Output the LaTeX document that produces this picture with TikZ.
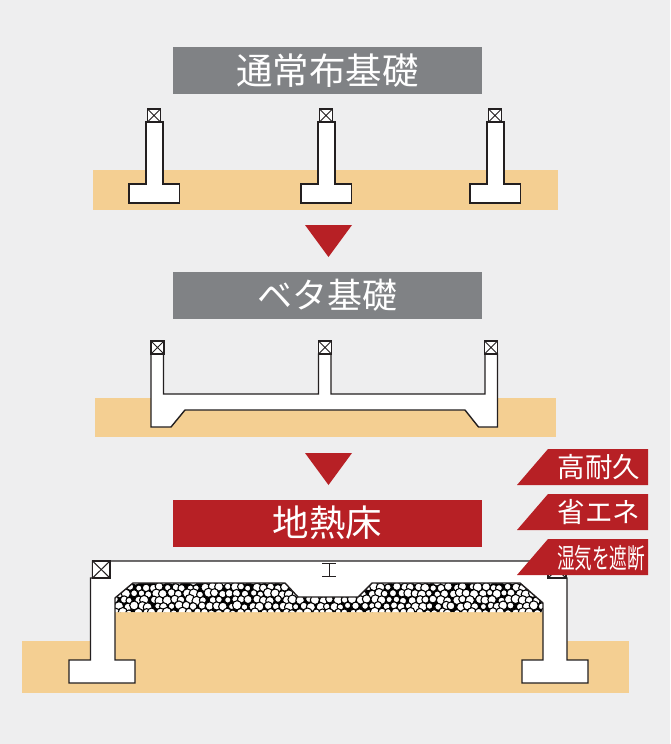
\documentclass[tikz,border=0pt]{standalone}
\usepackage{fontspec}
\newfontfamily\jpfont{Noto Sans CJK JP}
\definecolor{bgc}{HTML}{EEEEEF}
\definecolor{sand}{HTML}{F4CF92}
\definecolor{greyc}{HTML}{808285}
\definecolor{redc}{HTML}{B72025}
\definecolor{linec}{HTML}{231F20}
\tikzset{
  x=1pt,y=-1pt,
  sandbox/.style={fill=sand,draw=none},
  concrete/.style={fill=white,draw=linec,line width=1.4pt,line join=miter},
  tiebox/.style={draw=linec,fill=white,line width=1.3pt},
  tiex/.style={draw=linec,line width=1pt},
  banner/.style={draw=none,minimum width=309pt,minimum height=47pt,inner sep=0pt,text=white,font=\jpfont\fontsize{36.5pt}{37pt}\selectfont,anchor=center},
  tagtext/.style={text=white,inner sep=0pt,font=\jpfont\fontsize{27.5pt}{28pt}\selectfont,anchor=center},
  pointer/.style={fill=redc,draw=none},
  tagshape/.style={fill=redc,draw=none},
  pebble/.style={fill=white,draw=black,line width=1.05pt}
}
\newcommand{\tiemark}[4]{%
  \draw[tiebox] (#1,#2) rectangle (#3,#4);
  \draw[tiex] (#1,#2) -- (#3,#4) (#1,#4) -- (#3,#2);}
\newcommand{\stripfooting}[1]{%
  \draw[concrete] (#1+146,122) -- (#1+163,122) -- (#1+163,184) -- (#1+179.5,184) -- (#1+179.5,203) -- (#1+129,203) -- (#1+129,184) -- (#1+146,184) -- cycle;
  \tiemark{#1+147.5}{109}{#1+160.5}{122}}
\begin{document}
\begin{tikzpicture}
\useasboundingbox (0,0) rectangle (670,744);
\fill[bgc] (0,0) rectangle (670,744);
% --- top section
\node[banner,fill=greyc] (b1) at (327.5,70.5) {\raisebox{-1pt}{通常布基礎}};
\fill[sandbox] (93,170) rectangle (558,210);
\stripfooting{0}
\stripfooting{172}
\stripfooting{341}
\fill[pointer] (305,225) -- (352,225) -- (328.5,257) -- cycle;
% --- middle section
\node[banner,fill=greyc,font=\jpfont\fontsize{35pt}{36pt}\selectfont] (b2) at (327.5,295) {\raisebox{-1pt}{ベタ基礎}};
\fill[sandbox] (95,398) rectangle (556,437);
\draw[concrete] (151,354) -- (163.5,354) -- (163.5,394) -- (318.5,394) -- (318.5,354) -- (331,354) -- (331,394) -- (485,394) -- (485,354) -- (497.5,354) -- (497.5,427) -- (478.5,427) -- (465,410) -- (185,410) -- (171,427) -- (151,427) -- cycle;
\tiemark{151}{341}{164}{354}
\tiemark{318.5}{341}{331.5}{354}
\tiemark{484.5}{341}{497.5}{354}
\fill[pointer] (305,453) -- (352,453) -- (328.5,485) -- cycle;
% --- bottom section
\node[banner,fill=redc] (b3) at (327.5,523) {\raisebox{-1pt}{地熱床}};
\fill[sandbox] (22,641) rectangle (629,693);
\fill[sandbox] (115,600) rectangle (543,641);
\begin{scope}
  \clip (115,598) -- (133,583) -- (285,583) -- (298,597) -- (358,597) -- (372,583) -- (520,583) -- (543,603) -- (543,612) -- (115,612) -- cycle;
  \fill[black] (110,580) rectangle (550,612);
  \pgfmathsetseed{4217}
  \foreach \row in {0,...,5}{
    \foreach \col in {0,...,60}{
      \pgfmathsetmacro{\px}{112+\col*7.4+mod(\row,2)*3.6+1.5*rand}
      \pgfmathsetmacro{\py}{581+\row*6.3+1.0*rand}
      \pgfmathsetmacro{\pr}{3.9+0.8*rand}
      \draw[pebble] (\px,\py) circle[radius=\pr];
    }
  }
\end{scope}
\draw[concrete,fill=white] (92.5,561) -- (566,561) -- (566,578) -- (567,578) -- (567,660) -- (588,660) -- (588,683) -- (522,683) -- (522,660) -- (543,660) -- (543,603) -- (520,583) -- (372,583) -- (358,597) -- (298,597) -- (285,583) -- (133,583) -- (115,598) -- (115,660) -- (135,660) -- (135,683) -- (69,683) -- (69,660) -- (90.5,660) -- (90.5,578) -- (92.5,578) -- cycle;
\tiemark{92.5}{561}{110}{578}
\tiemark{548}{561}{566}{578}
\draw[tiex] (322,563) -- (336,563) (322,576) -- (336,576) (329,563) -- (329,576);
% --- tags
\fill[tagshape] (517,485) -- (548,449) -- (648,449) -- (648,485) -- cycle;
\fill[tagshape] (517,530) -- (548,494) -- (648,494) -- (648,530) -- cycle;
\fill[tagshape] (517,575) -- (548,539) -- (648,539) -- (648,575) -- cycle;
\node[tagtext] (t1) at (599,467) {高耐久};
\node[tagtext] (t2) at (599,512) {省エネ};
\node[tagtext] (t3) at (601,558) {\scalebox{0.64}[1]{湿気を遮断}};
\end{tikzpicture}
\end{document}
